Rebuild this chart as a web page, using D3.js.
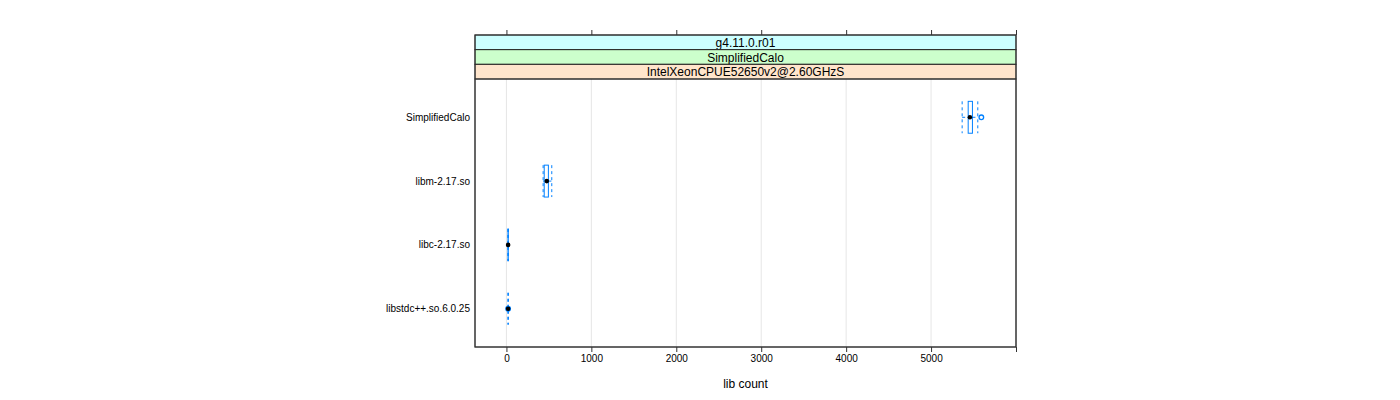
<!DOCTYPE html>
<html><head><meta charset="utf-8">
<script src="https://cdn.jsdelivr.net/npm/d3@7"></script>
<style>body{margin:0;background:#fff;} svg{display:block;}</style>
</head><body>
<svg id="c" width="1400" height="400"></svg>
<script>
const categories = ["libstdc++.so.6.0.25","libc-2.17.so","libm-2.17.so","SimplifiedCalo"];
const whiskerLow = [17, 18, 432, 5366];
const q1 = [20, 18, 445, 5437];
const median = [20, 20, 475, 5457];
const q3 = [20, 22, 494, 5487];
const whiskerHigh = [23, 22, 534, 5550];
const outliers = [[20], [], [], [5592]];
const xTicks = [0, 1000, 2000, 3000, 4000, 5000, 6000];
const xTickLabels = ["0","1000","2000","3000","4000","5000",""];
const strips = ["g4.11.0.r01", "SimplifiedCalo", "IntelXeonCPUE52650v2@2.60GHzS"];
const stripColors = ["#ccffff", "#ccffcc", "#ffe5cc"];
const xTitle = "lib count";

const svg = d3.select("#c");
const L = 475, R = 1016, T = 79, B = 347;
const x = d3.scaleLinear().domain([-370, 6000]).range([L, R]);
const y = d3.scaleLinear().domain([0.4, categories.length + 0.6]).range([B, T]);
const font = "'Liberation Sans', Arial, Helvetica, sans-serif";
const blue = "#0080ff";

// grid
svg.append("g").selectAll("line").data(xTicks.filter(t => t < 6000)).join("line")
  .attr("x1", d => x(d)).attr("x2", d => x(d)).attr("y1", T).attr("y2", B)
  .attr("stroke", "#e6e6e6").attr("stroke-width", 1);

// strips
const stripH = (T - 35) / strips.length;
strips.forEach((s, i) => {
  const y0 = 35 + i * stripH;
  svg.append("rect").attr("x", L).attr("y", y0).attr("width", R - L).attr("height", stripH)
    .attr("fill", stripColors[i]).attr("stroke", "#222").attr("stroke-width", 1);
  svg.append("text").attr("x", (L + R) / 2).attr("y", y0 + stripH / 2 + 4.5)
    .attr("text-anchor", "middle").attr("font-family", font).attr("font-size", 12).text(s);
});

// boxes
const g = svg.append("g");
categories.forEach((c, i) => {
  const yc = y(i + 1), y0 = y(i + 1 + 0.25), y1 = y(i + 1 - 0.25);
  [[whiskerLow[i], q1[i]], [q3[i], whiskerHigh[i]]].forEach(([a, b]) => {
    g.append("line").attr("x1", x(a)).attr("x2", x(b)).attr("y1", yc).attr("y2", yc)
      .attr("stroke", blue).attr("stroke-dasharray", "3,3");
  });
  [whiskerLow[i], whiskerHigh[i]].forEach(v => {
    g.append("line").attr("x1", x(v)).attr("x2", x(v)).attr("y1", y0).attr("y2", y1)
      .attr("stroke", blue).attr("stroke-dasharray", "3,3");
  });
  g.append("rect").attr("x", x(q1[i])).attr("y", y0)
    .attr("width", Math.max(0, x(q3[i]) - x(q1[i]))).attr("height", y1 - y0)
    .attr("fill", "none").attr("stroke", blue).attr("stroke-width", 1);
  outliers[i].forEach(o => {
    g.append("circle").attr("cx", x(o)).attr("cy", yc).attr("r", 2.3)
      .attr("fill", "none").attr("stroke", blue).attr("stroke-width", 1.3);
  });
  g.append("circle").attr("cx", x(median[i])).attr("cy", yc).attr("r", 2.3).attr("fill", "#000");
  svg.append("text").attr("x", 470).attr("y", yc + 3.5).attr("text-anchor", "end")
    .attr("font-family", font).attr("font-size", 10).text(c);
});

// panel border
svg.append("rect").attr("x", L).attr("y", T).attr("width", R - L).attr("height", B - T)
  .attr("fill", "none").attr("stroke", "#333").attr("stroke-width", 1);
svg.append("rect").attr("x", L).attr("y", 35).attr("width", R - L).attr("height", B - 35)
  .attr("fill", "none").attr("stroke", "#333").attr("stroke-width", 1);

// bottom axis
const axB = d3.axisBottom(x).tickValues(xTicks).tickFormat((d, i) => xTickLabels[i]).tickSize(5).tickPadding(3);
const gb = svg.append("g").attr("transform", `translate(0,${B})`).call(axB);
gb.select(".domain").remove();
gb.selectAll("line").attr("stroke", "#333");
gb.selectAll("text").attr("font-family", font).attr("font-size", 10).attr("fill", "#000");
// top ticks
const axT = d3.axisTop(x).tickValues(xTicks).tickFormat("").tickSize(5);
const gt = svg.append("g").attr("transform", `translate(0,35)`).call(axT);
gt.select(".domain").remove();
gt.selectAll("line").attr("stroke", "#333");

svg.append("text").attr("x", (L + R) / 2).attr("y", 388).attr("text-anchor", "middle")
  .attr("font-family", font).attr("font-size", 12).text(xTitle);
</script>
</body></html>
